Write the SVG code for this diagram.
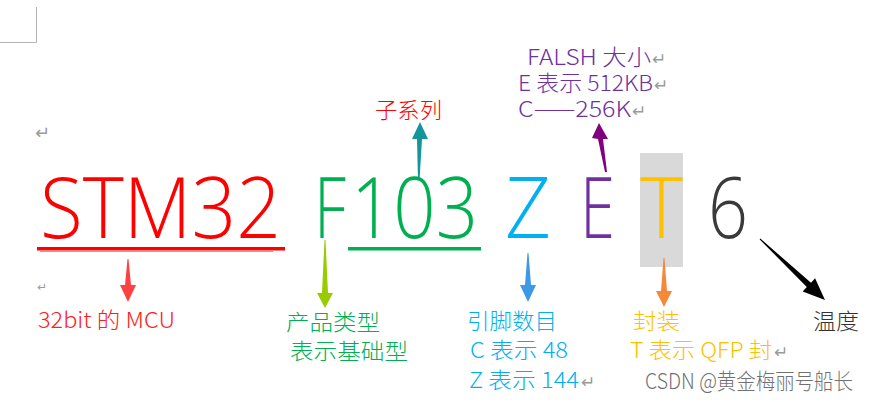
<svg xmlns="http://www.w3.org/2000/svg" width="870" height="402" viewBox="0 0 870 402">
<style>
.big{font-family:"Open Sans","Noto Sans","Liberation Sans",sans-serif;font-weight:300;font-size:84px}
.lbl{font-family:"Noto Sans CJK SC","Noto Sans",sans-serif;font-size:22px;font-weight:300}
.ret{font-family:"DejaVu Sans",sans-serif;font-size:17px;fill:#9a9a9a}
.mark{stroke:#b4b4b4;stroke-width:1;fill:none}
</style>
<rect width="870" height="402" fill="#ffffff"/>
<path class="mark" d="M36.5 7 V42.5 H0"/>
<text class="ret" x="35" y="139" style="font-size:18px">↵</text>
<text class="ret" x="37" y="291" style="font-size:12px">↵</text>

<g id="stm32">
  <text class="big" x="40" y="238" fill="#ff0000" textLength="241" lengthAdjust="spacingAndGlyphs">STM32</text>
  <line x1="40" y1="251.5" x2="273" y2="251.5" stroke="#4472c4" stroke-width="1" opacity="0.6"/>
  <rect x="37" y="247" width="248" height="3.5" fill="#ff0000"/>
</g>
<g id="f">
  <text class="big" x="314" y="238" fill="#00b050" textLength="32" lengthAdjust="spacingAndGlyphs">F</text>
</g>
<g id="n103">
  <text class="big" x="351" y="238" fill="#00b050" textLength="127" lengthAdjust="spacingAndGlyphs">103</text>
  <rect x="348" y="247" width="133" height="3.5" fill="#00b050"/>
</g>
<g id="z">
  <text class="big" x="505" y="238" fill="#00b0f0" textLength="46" lengthAdjust="spacingAndGlyphs">Z</text>
</g>
<g id="e">
  <text class="big" x="580" y="238" fill="#7030a0" textLength="35" lengthAdjust="spacingAndGlyphs">E</text>
</g>
<g id="t">
  <rect x="640" y="153" width="43" height="114" fill="#d9d9d9"/>
  <text class="big" x="640" y="238" fill="#ffc000" textLength="43" lengthAdjust="spacingAndGlyphs">T</text>
</g>
<g id="six">
  <text class="big" x="708" y="238" fill="#3a3a3a" textLength="40" lengthAdjust="spacingAndGlyphs">6</text>
</g>

<g id="label-sub">
  <text class="lbl" x="375" y="118" fill="#ff0000" textLength="67" lengthAdjust="spacingAndGlyphs">子系列</text>
</g>
<g id="label-flash" fill="#7030a0">
  <text class="lbl" x="527" y="65" textLength="124" lengthAdjust="spacingAndGlyphs">FALSH  大小</text>
  <text class="ret" x="652" y="65">↵</text>
  <text class="lbl" x="518" y="91" textLength="135" lengthAdjust="spacingAndGlyphs">E 表示 512KB</text>
  <text class="ret" x="654" y="91">↵</text>
  <text class="lbl" x="518" y="117" textLength="113" lengthAdjust="spacingAndGlyphs">C——256K</text>
  <text class="ret" x="632" y="117">↵</text>
</g>
<g id="label-mcu">
  <text class="lbl" x="38" y="328" fill="#ff2020" textLength="137" lengthAdjust="spacingAndGlyphs">32bit 的 MCU</text>
</g>
<g id="label-type" fill="#00b050">
  <text class="lbl" x="286" y="330" textLength="94" lengthAdjust="spacingAndGlyphs">产品类型</text>
  <text class="lbl" x="290" y="359" textLength="118" lengthAdjust="spacingAndGlyphs">表示基础型</text>
</g>
<g id="label-pins" fill="#00b0f0">
  <text class="lbl" x="467" y="329" textLength="90" lengthAdjust="spacingAndGlyphs">引脚数目</text>
  <text class="lbl" x="470" y="358" textLength="98" lengthAdjust="spacingAndGlyphs">C 表示 48</text>
  <text class="lbl" x="469" y="388" textLength="110" lengthAdjust="spacingAndGlyphs">Z 表示 144</text>
  <text class="ret" x="581" y="388">↵</text>
</g>
<g id="label-pkg" fill="#ffc000">
  <text class="lbl" x="633" y="329" textLength="47" lengthAdjust="spacingAndGlyphs">封装</text>
  <text class="lbl" x="630" y="358" textLength="142" lengthAdjust="spacingAndGlyphs">T 表示 QFP 封</text>
  <text class="ret" x="774" y="358">↵</text>
</g>
<g id="label-temp">
  <text class="lbl" x="813" y="329" fill="#333333" textLength="46" lengthAdjust="spacingAndGlyphs">温度</text>
</g>
<g id="watermark">
  <text class="lbl" x="645" y="389" fill="#707070" textLength="208" lengthAdjust="spacingAndGlyphs">CSDN @黄金梅丽号船长</text>
</g>

<g id="connectors">
  <polygon points="420,122 428,139 422,139 419.5,180 418,180 417,139 412,139" fill="#13959a"/>
  <polygon points="599,123 608,139 603,139 607,172 605,172 598,139 592,138" fill="#800080"/>
  <polygon points="127.5,259 128.5,259 131,285 136,285 128,302 120,285 125,285" fill="#ff4040"/>
  <polygon points="324.5,240 325.5,240 328,293 333,293 325,308 317,293 322,293" fill="#99cc00"/>
  <polygon points="527.5,253 528.5,253 531,285 536,285 528,302 520,285 525,285" fill="#3d99e6"/>
  <polygon points="663.5,258 664.5,258 667,291 672,291 664,307 656,291 661,291" fill="#f5893a"/>
  <polygon points="760.3,238.6 811,282.7 815.1,278.3 825,300 802.7,291.5 806.8,287.1 759.7,239.4" fill="#000000"/>
</g>
</svg>
